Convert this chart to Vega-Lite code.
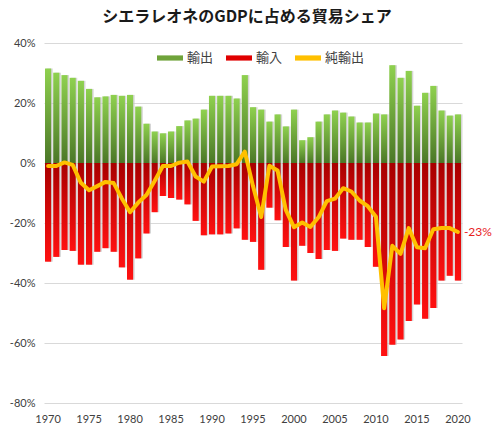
{
  "$schema": "https://vega.github.io/schema/vega-lite/v6.json",
  "width": 418,
  "height": 360,
  "autosize": {"type": "none"},
  "padding": {"left": 44, "top": 43, "right": 31, "bottom": 29},
  "background": "white",
  "title": {
    "text": "シエラレオネのGDPに占める貿易シェア",
    "font": "Noto Sans CJK JP",
    "fontSize": 16,
    "fontWeight": "bold",
    "color": "#1a1a1a",
    "anchor": "middle",
    "offset": 12,
    "dx": -6
  },
  "data": {
    "values": [
      {"year": 1970, "exp": 0.315, "imp": -0.329, "net": -0.010},
      {"year": 1971, "exp": 0.301, "imp": -0.313, "net": -0.010},
      {"year": 1972, "exp": 0.293, "imp": -0.290, "net": 0.002},
      {"year": 1973, "exp": 0.284, "imp": -0.293, "net": -0.006},
      {"year": 1974, "exp": 0.274, "imp": -0.339, "net": -0.066},
      {"year": 1975, "exp": 0.247, "imp": -0.339, "net": -0.091},
      {"year": 1976, "exp": 0.219, "imp": -0.296, "net": -0.077},
      {"year": 1977, "exp": 0.222, "imp": -0.284, "net": -0.063},
      {"year": 1978, "exp": 0.227, "imp": -0.296, "net": -0.067},
      {"year": 1979, "exp": 0.224, "imp": -0.348, "net": -0.118},
      {"year": 1980, "exp": 0.227, "imp": -0.389, "net": -0.164},
      {"year": 1981, "exp": 0.188, "imp": -0.318, "net": -0.132},
      {"year": 1982, "exp": 0.131, "imp": -0.235, "net": -0.107},
      {"year": 1983, "exp": 0.105, "imp": -0.164, "net": -0.060},
      {"year": 1984, "exp": 0.099, "imp": -0.110, "net": -0.010},
      {"year": 1985, "exp": 0.105, "imp": -0.117, "net": -0.010},
      {"year": 1986, "exp": 0.123, "imp": -0.122, "net": 0.001},
      {"year": 1987, "exp": 0.142, "imp": -0.138, "net": 0.005},
      {"year": 1988, "exp": 0.148, "imp": -0.193, "net": -0.045},
      {"year": 1989, "exp": 0.178, "imp": -0.241, "net": -0.062},
      {"year": 1990, "exp": 0.224, "imp": -0.238, "net": -0.012},
      {"year": 1991, "exp": 0.224, "imp": -0.238, "net": -0.011},
      {"year": 1992, "exp": 0.224, "imp": -0.235, "net": -0.010},
      {"year": 1993, "exp": 0.215, "imp": -0.218, "net": -0.004},
      {"year": 1994, "exp": 0.293, "imp": -0.256, "net": 0.038},
      {"year": 1995, "exp": 0.186, "imp": -0.263, "net": -0.077},
      {"year": 1996, "exp": 0.178, "imp": -0.356, "net": -0.180},
      {"year": 1997, "exp": 0.138, "imp": -0.149, "net": -0.009},
      {"year": 1998, "exp": 0.162, "imp": -0.191, "net": -0.025},
      {"year": 1999, "exp": 0.122, "imp": -0.280, "net": -0.156},
      {"year": 2000, "exp": 0.178, "imp": -0.392, "net": -0.214},
      {"year": 2001, "exp": 0.076, "imp": -0.276, "net": -0.198},
      {"year": 2002, "exp": 0.086, "imp": -0.300, "net": -0.213},
      {"year": 2003, "exp": 0.138, "imp": -0.320, "net": -0.181},
      {"year": 2004, "exp": 0.162, "imp": -0.290, "net": -0.127},
      {"year": 2005, "exp": 0.175, "imp": -0.293, "net": -0.119},
      {"year": 2006, "exp": 0.168, "imp": -0.252, "net": -0.084},
      {"year": 2007, "exp": 0.155, "imp": -0.256, "net": -0.095},
      {"year": 2008, "exp": 0.135, "imp": -0.256, "net": -0.125},
      {"year": 2009, "exp": 0.135, "imp": -0.280, "net": -0.144},
      {"year": 2010, "exp": 0.165, "imp": -0.346, "net": -0.179},
      {"year": 2011, "exp": 0.162, "imp": -0.643, "net": -0.484},
      {"year": 2012, "exp": 0.326, "imp": -0.606, "net": -0.276},
      {"year": 2013, "exp": 0.284, "imp": -0.588, "net": -0.303},
      {"year": 2014, "exp": 0.307, "imp": -0.527, "net": -0.217},
      {"year": 2015, "exp": 0.191, "imp": -0.472, "net": -0.281},
      {"year": 2016, "exp": 0.234, "imp": -0.519, "net": -0.284},
      {"year": 2017, "exp": 0.257, "imp": -0.483, "net": -0.221},
      {"year": 2018, "exp": 0.175, "imp": -0.392, "net": -0.217},
      {"year": 2019, "exp": 0.158, "imp": -0.376, "net": -0.217},
      {"year": 2020, "exp": 0.162, "imp": -0.392, "net": -0.230}
    ]
  },
  "encoding": {
    "x": {
      "field": "year",
      "type": "ordinal",
      "scale": {"paddingInner": 0, "paddingOuter": 0},
      "axis": {
        "title": null,
        "values": [1970, 1975, 1980, 1985, 1990, 1995, 2000, 2005, 2010, 2015, 2020],
        "labelAngle": 0,
        "labelPadding": 10,
        "ticks": false,
        "domain": false,
        "grid": false
      }
    }
  },
  "layer": [
    {
      "mark": {"type": "bar", "width": {"band": 0.75}, "xOffset": 1.5, "color": "#c4c4c4", "opacity": 0.7},
      "encoding": {
        "y": {
          "field": "exp",
          "type": "quantitative",
          "scale": {"domain": [-0.8, 0.4], "nice": false},
          "axis": {
            "title": null,
            "values": [-0.8, -0.6, -0.4, -0.2, 0, 0.2, 0.4],
            "format": ".0%",
            "labelPadding": 9,
            "ticks": false,
            "domain": false,
            "gridColor": "#d9d9d9"
          }
        }
      }
    },
    {
      "mark": {"type": "bar", "width": {"band": 0.75}, "xOffset": 1.5, "color": "#c4c4c4", "opacity": 0.7},
      "encoding": {"y": {"field": "imp", "type": "quantitative"}}
    },
    {
      "mark": {
        "type": "bar",
        "width": {"band": 0.75},
        "color": {
          "gradient": "linear",
          "x1": 0, "y1": 0, "x2": 0, "y2": 1,
          "stops": [
            {"offset": 0, "color": "#8fd14f"},
            {"offset": 1, "color": "#4b7727"}
          ]
        }
      },
      "encoding": {"y": {"field": "exp", "type": "quantitative"}}
    },
    {
      "mark": {
        "type": "bar",
        "width": {"band": 0.75},
        "color": {
          "gradient": "linear",
          "x1": 0, "y1": 0, "x2": 0, "y2": 1,
          "stops": [
            {"offset": 0, "color": "#a80000"},
            {"offset": 1, "color": "#ff1111"}
          ]
        }
      },
      "encoding": {"y": {"field": "imp", "type": "quantitative"}}
    },
    {
      "mark": {"type": "line", "color": "#ffc000", "strokeWidth": 4, "strokeJoin": "round", "strokeCap": "round"},
      "encoding": {"y": {"field": "net", "type": "quantitative"}}
    },
    {
      "transform": [{"filter": "datum.year == 2020"}],
      "mark": {"type": "text", "align": "left", "baseline": "middle", "dx": 6, "font": "Lato", "fontSize": 12, "color": "#e8201c"},
      "encoding": {
        "y": {"field": "net", "type": "quantitative"},
        "text": {"field": "net", "type": "quantitative", "format": ".0%"}
      }
    },
    {
      "transform": [{"filter": "datum.year < 0"}],
      "mark": {"type": "bar"},
      "encoding": {
        "y": {"field": "exp", "type": "quantitative"},
        "color": {
          "datum": "輸出",
          "type": "nominal",
          "scale": {"domain": ["輸出", "輸入", "純輸出"], "range": ["#6fa33a", "#e00000", "#ffc000"]},
          "legend": {
            "title": null,
            "orient": "none",
            "legendX": 113,
            "legendY": 2,
            "direction": "horizontal",
            "symbolType": "M-1,-0.2H1V0.2H-1Z",
            "symbolSize": 676,
            "symbolStrokeWidth": 0,
            "labelFont": "Noto Sans CJK JP",
            "labelFontSize": 13,
            "labelColor": "#404040",
            "labelOffset": 4,
            "columnPadding": 12
          }
        }
      }
    }
  ],
  "config": {
    "view": {"stroke": null},
    "locale": {"number": {"decimal": ".", "thousands": ",", "grouping": [3], "currency": ["$", ""], "minus": "-"}},
    "axis": {"labelFont": "Lato", "labelFontSize": 11, "labelColor": "#404040"}
  }
}
